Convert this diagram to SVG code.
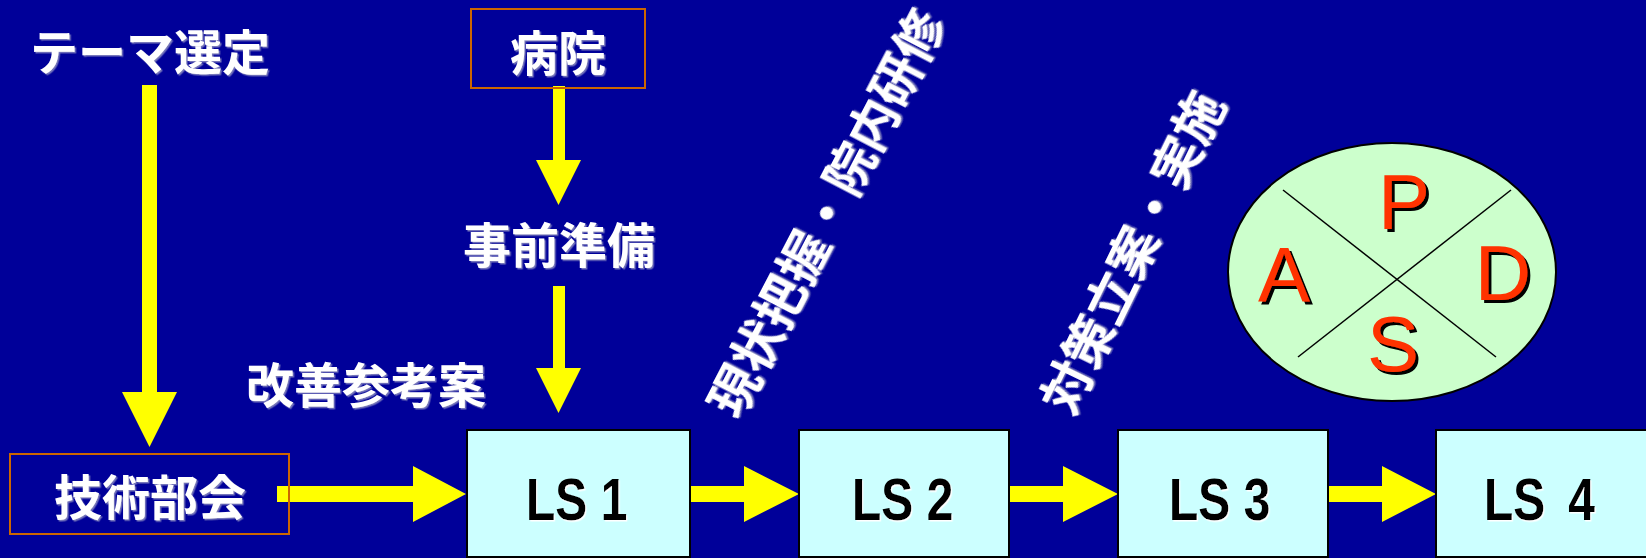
<svg xmlns="http://www.w3.org/2000/svg" width="1646" height="558" viewBox="0 0 1646 558">
<defs>
<style>
.jp{font-family:"Noto Sans CJK JP","Noto Sans CJK SC",sans-serif;font-weight:bold;font-size:48px;fill:#ffffff;text-anchor:middle}
.rot{font-size:50px}
.ls{font-family:"Liberation Sans",Arial,sans-serif;font-weight:bold;font-size:60px;fill:#000000}
.pd{font-family:"Liberation Sans",Arial,sans-serif;font-size:78px;fill:#ff3300;text-anchor:middle}
.box{fill:none;stroke:#cc6600;stroke-width:2}
.lsbox{fill:#ccffff;stroke:#000000;stroke-width:2}
.arr{fill:#ffff00}
</style>
<filter id="sh" x="-10%" y="-10%" width="130%" height="130%"><feDropShadow dx="3" dy="3" stdDeviation="0" flood-color="#000000"/></filter>
<filter id="wsh" x="-10%" y="-10%" width="130%" height="130%"><feDropShadow dx="1.5" dy="1.5" stdDeviation="0" flood-color="#ffffff"/></filter>
<filter id="bsh" x="-10%" y="-10%" width="130%" height="130%"><feDropShadow dx="1.5" dy="1.5" stdDeviation="0" flood-color="#7777bb"/></filter>
</defs>
<rect x="0" y="0" width="1646" height="558" fill="#000099"/>

<g id="connectors">
<polygon class="arr" points="142,85 157,85 157,392 177,392 149.5,447 122,392 142,392"/>
<polygon class="arr" points="553,86 565,86 565,160 581,160 558.5,205 536,160 553,160"/>
<polygon class="arr" points="553,286 565,286 565,368 581,368 558.5,413 536,368 553,368"/>
<polygon class="arr" points="277,486 413,486 413,466 466,494 413,522 413,502 277,502"/>
<polygon class="arr" points="689,486 744,486 744,466 799,494 744,522 744,502 689,502"/>
<polygon class="arr" points="1009,486 1063,486 1063,466 1118,494 1063,522 1063,502 1009,502"/>
<polygon class="arr" points="1328,486 1382,486 1382,466 1436,494 1382,522 1382,502 1328,502"/>
</g>

<g id="theme"><text class="jp" x="150" y="70" filter="url(#bsh)">テーマ選定</text></g>
<g id="hospital"><rect class="box" x="471" y="9" width="174" height="79"/><text class="jp" x="558" y="71" filter="url(#bsh)">病院</text></g>
<g id="prep"><text class="jp" x="559" y="263" filter="url(#bsh)">事前準備</text></g>
<g id="kaizen"><text class="jp" x="366" y="403" filter="url(#bsh)">改善参考案</text></g>
<g id="gijutsu"><rect class="box" x="10" y="454" width="279" height="80"/><text class="jp" x="150" y="515" filter="url(#bsh)">技術部会</text></g>

<g id="label-genjo" transform="translate(826,213) rotate(-62.5)"><text class="jp rot" x="0" y="19" filter="url(#bsh)">現状把握・院内研修</text></g>
<g id="label-taisaku" transform="translate(1132,252) rotate(-64)"><text class="jp rot" x="0" y="19" filter="url(#bsh)">対策立案・実施</text></g>

<g id="ls1"><rect class="lsbox" x="467" y="430" width="223" height="127"/><g transform="translate(526,520) scale(0.8,1)"><text class="ls" x="0" y="0" filter="url(#wsh)">LS 1</text></g></g>
<g id="ls2"><rect class="lsbox" x="799" y="430" width="210" height="127"/><g transform="translate(852,520) scale(0.8,1)"><text class="ls" x="0" y="0" filter="url(#wsh)">LS 2</text></g></g>
<g id="ls3"><rect class="lsbox" x="1118" y="430" width="210" height="127"/><g transform="translate(1169,520) scale(0.8,1)"><text class="ls" x="0" y="0" filter="url(#wsh)">LS 3</text></g></g>
<g id="ls4"><rect class="lsbox" x="1436" y="430" width="214" height="127"/><g transform="translate(1484,520) scale(0.8,1)"><text class="ls" x="0" y="0" filter="url(#wsh)">LS <tspan dx="12">4</tspan></text></g></g>

<g id="pdsa">
<ellipse cx="1392" cy="272" rx="164" ry="129" fill="#ccffcc" stroke="#000000" stroke-width="2"/>
<line x1="1283" y1="190" x2="1496" y2="357" stroke="#000000" stroke-width="1.5"/>
<line x1="1511" y1="190" x2="1298" y2="357" stroke="#000000" stroke-width="1.5"/>
<text class="pd" x="1404" y="229" filter="url(#sh)">P</text>
<text class="pd" x="1284" y="302" filter="url(#sh)">A</text>
<text class="pd" x="1503" y="300" filter="url(#sh)">D</text>
<text class="pd" x="1393" y="371" filter="url(#sh)">S</text>
</g>
</svg>
